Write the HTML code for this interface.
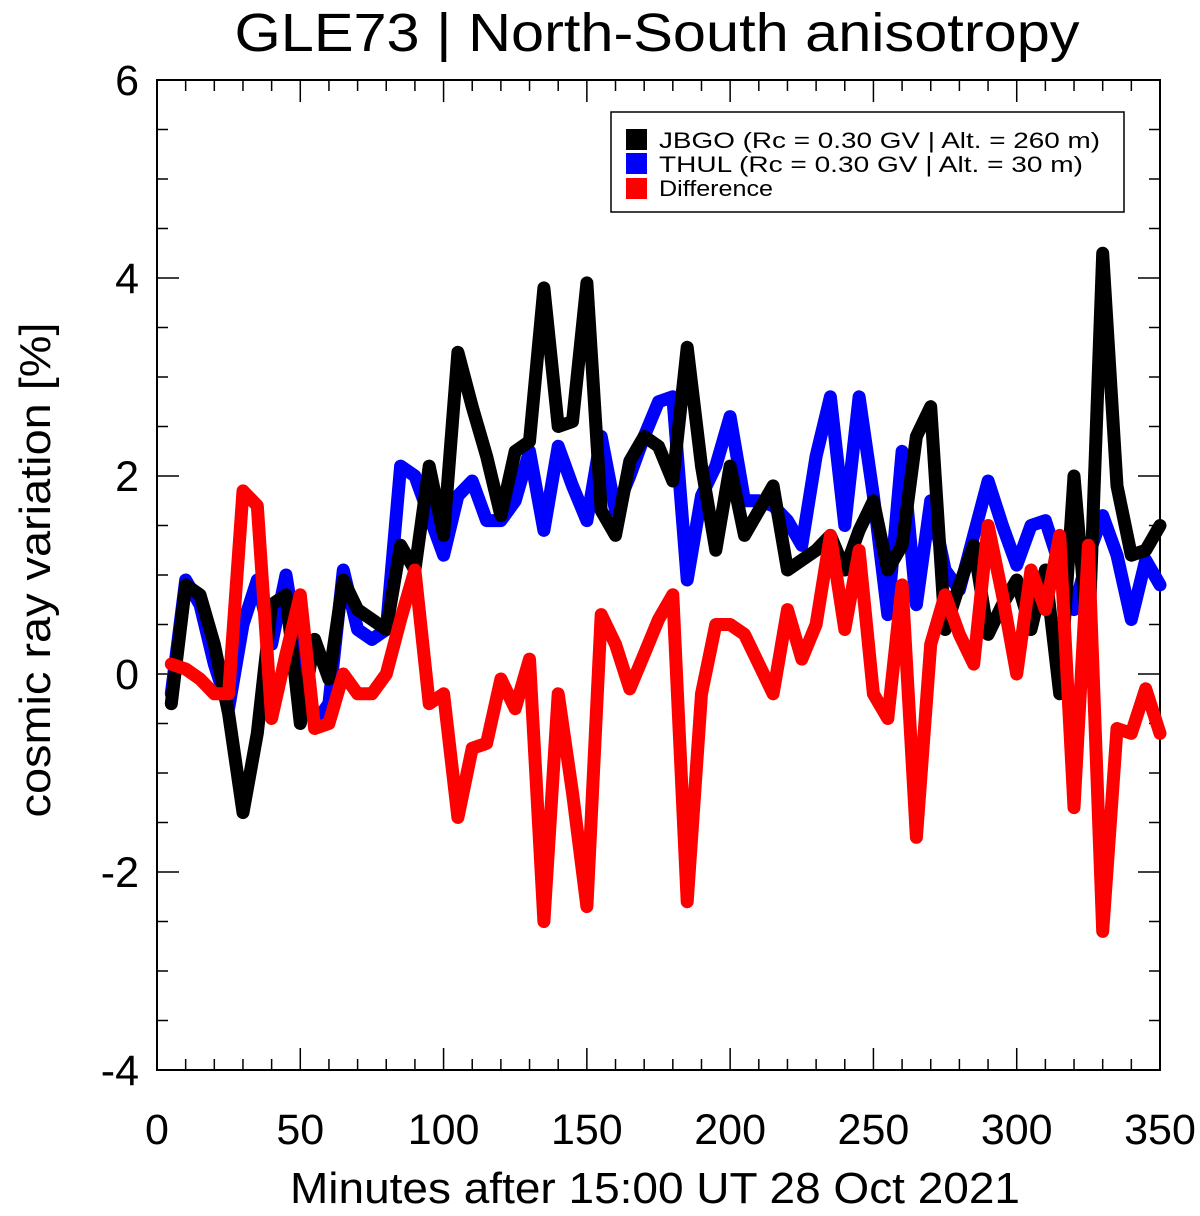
<!DOCTYPE html>
<html><head><meta charset="utf-8"><style>
html,body{margin:0;padding:0;background:#fff;}
svg{display:block;font-family:"Liberation Sans",sans-serif;}
</style></head><body>
<svg id="chart" width="1200" height="1216" viewBox="0 0 1200 1216">
<text x="657" y="51" font-size="54" textLength="845" lengthAdjust="spacingAndGlyphs" text-anchor="middle">GLE73 | North-South anisotropy</text>
<g id="axes"></g>
<g id="series"></g>
<g>
<rect x="611" y="112" width="513" height="100" fill="#fff" stroke="#000" stroke-width="1.5"/>
<rect x="626" y="129" width="21" height="21" fill="#000"/>
<rect x="626" y="153" width="21" height="21" fill="#0000ff"/>
<rect x="626" y="178" width="21" height="21" fill="#ff0000"/>
<text x="659" y="148" font-size="22" textLength="441" lengthAdjust="spacingAndGlyphs">JBGO (Rc = 0.30 GV | Alt. = 260 m)</text>
<text x="659" y="172" font-size="22" textLength="424" lengthAdjust="spacingAndGlyphs">THUL (Rc = 0.30 GV | Alt. = 30 m)</text>
<text x="659" y="196" font-size="22" textLength="114" lengthAdjust="spacingAndGlyphs">Difference</text>
</g>
<text x="655" y="1203" font-size="44" textLength="730" lengthAdjust="spacingAndGlyphs" text-anchor="middle">Minutes after 15:00 UT 28 Oct 2021</text>
<text transform="translate(50,570) rotate(-90)" font-size="44" textLength="495" lengthAdjust="spacingAndGlyphs" text-anchor="middle">cosmic ray variation [%]</text>
</svg>
<script>
const minutes = [5,10,15,20,25,30,35,40,45,50,55,60,65,70,75,80,85,90,95,100,105,110,115,120,125,130,135,140,145,150,155,160,165,170,175,180,185,190,195,200,205,210,215,220,225,230,235,240,245,250,255,260,265,270,275,280,285,290,295,300,305,310,315,320,325,330,335,340,345,350];
const jbgo = [-0.3,0.9,0.8,0.3,-0.4,-1.4,-0.6,0.7,0.8,-0.5,0.35,-0.05,0.95,0.65,0.55,0.45,1.3,1.05,2.1,1.4,3.25,2.7,2.2,1.6,2.25,2.35,3.9,2.5,2.55,3.95,1.65,1.4,2.15,2.4,2.3,1.95,3.3,2.1,1.25,2.1,1.4,1.65,1.9,1.05,1.15,1.25,1.4,1.05,1.45,1.75,1.05,1.3,2.4,2.7,0.45,0.9,1.3,0.4,0.7,0.95,0.45,1.05,-0.2,2.0,0.3,4.25,1.9,1.2,1.25,1.5];
const thul = [-0.2,0.95,0.7,0.1,-0.35,0.5,0.95,0.3,1.0,0.1,-0.5,-0.3,1.05,0.45,0.35,0.45,2.1,2.0,1.6,1.2,1.8,1.95,1.55,1.55,1.75,2.25,1.45,2.3,1.9,1.55,2.4,1.65,2.0,2.4,2.75,2.8,0.95,1.8,2.1,2.6,1.75,1.75,1.7,1.55,1.3,2.2,2.8,1.5,2.8,1.8,0.6,2.25,0.7,1.75,1.05,0.85,1.4,1.95,1.5,1.1,1.5,1.55,1.1,0.65,1.2,1.6,1.2,0.55,1.15,0.9];
const diff = [0.1,0.05,-0.05,-0.2,-0.2,1.85,1.7,-0.45,0.2,0.8,-0.55,-0.5,0.0,-0.2,-0.2,0.0,0.55,1.05,-0.3,-0.2,-1.45,-0.75,-0.7,-0.05,-0.35,0.15,-2.5,-0.2,-1.2,-2.35,0.6,0.3,-0.15,0.2,0.55,0.8,-2.3,-0.2,0.5,0.5,0.4,0.1,-0.2,0.65,0.15,0.5,1.4,0.45,1.25,-0.2,-0.45,0.9,-1.65,0.3,0.8,0.4,0.1,1.5,0.8,0.0,1.05,0.65,1.4,-1.35,1.3,-2.6,-0.55,-0.6,-0.15,-0.6];
const xTicks = [0,50,100,150,200,250,300,350];
const yTicks = [-4,-2,0,2,4,6];

const NS = "http://www.w3.org/2000/svg";
const X0 = 157, X1 = 1160, Y0 = 1070, Y1 = 80;
const xs = m => X0 + (m - 0) / 350 * (X1 - X0);
const ys = v => Y0 - (v + 4) / 10 * (Y0 - Y1);
function mk(tag, attrs, parent){const e=document.createElementNS(NS,tag);for(const k in attrs)e.setAttribute(k,attrs[k]);parent.appendChild(e);return e;}
const axes = document.getElementById('axes');
const frame = mk('rect',{x:X0,y:Y1,width:X1-X0,height:Y0-Y1,fill:'none',stroke:'#000','stroke-width':2},axes);


for(let m=0;m<=350;m+=10){
  const big = m%50===0, L = big?22:11;
  mk('line',{x1:xs(m),x2:xs(m),y1:Y0,y2:Y0-L,stroke:'#000','stroke-width':1.5},axes);
  mk('line',{x1:xs(m),x2:xs(m),y1:Y1,y2:Y1+L,stroke:'#000','stroke-width':1.5},axes);
}
for(let v=-4;v<=6;v+=0.5){
  const big = Math.abs(v%2)<1e-9, L = big?22:11;
  mk('line',{x1:X0,x2:X0+L,y1:ys(v),y2:ys(v),stroke:'#000','stroke-width':1.5},axes);
  mk('line',{x1:X1,x2:X1-L,y1:ys(v),y2:ys(v),stroke:'#000','stroke-width':1.5},axes);
}
xTicks.forEach(t=>{
  const e = mk('text',{x:xs(t),y:1144,'font-size':43,'text-anchor':'middle'},axes);
  e.textContent = t;
  
  
});
yTicks.forEach(t=>{
  const e = mk('text',{x:139,y:ys(t)+15,'font-size':43,'text-anchor':'end'},axes);
  e.textContent = t;
  
  
});
const series = document.getElementById('series');
function drawLine(vals,color,name){
  const pts = minutes.map((m,i)=>xs(m).toFixed(1)+','+ys(vals[i]).toFixed(1)).join(' ');
  const p = mk('polyline',{points:pts,fill:'none',stroke:color,'stroke-width':13,'stroke-linejoin':'round','stroke-linecap':'round'},series);
  
  
}
drawLine(thul,'#0000ff','thul-line');
drawLine(jbgo,'#000000','jbgo-line');
drawLine(diff,'#ff0000','difference-line');
</script>
</body></html>
